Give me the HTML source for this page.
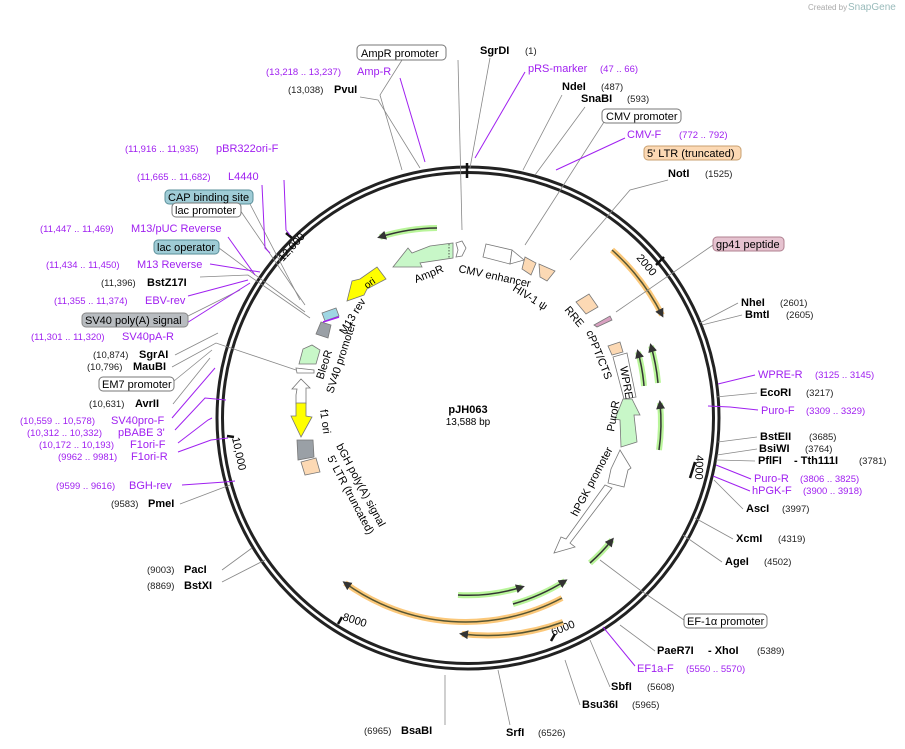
<!DOCTYPE html>
<html><head><meta charset="utf-8"><style>
body{margin:0;background:#fff}
svg{display:block}
text{font-family:"Liberation Sans","DejaVu Sans",sans-serif;font-size:11px}
.b{font-weight:bold;fill:#000}
.n{font-size:9.5px;fill:#222}
.p{fill:#a020f0}
.pn{fill:#a020f0;font-size:9.5px}
.l{stroke:#888;stroke-width:0.8;fill:none}
.lp{stroke:#a020f0;stroke-width:1;fill:none}
</style></head><body>
<svg width="905" height="749" viewBox="0 0 905 749" xmlns="http://www.w3.org/2000/svg">
<text x="808" y="10" style="font-size:8px;fill:#aaa">Created by</text><text x="848" y="10" style="font-size:10px;fill:#9bb">SnapGene</text>
<circle cx="468" cy="418" r="251" fill="none" stroke="#222" stroke-width="3"/>
<circle cx="468" cy="418" r="245.5" fill="none" stroke="#222" stroke-width="3"/>
<g stroke="#111" stroke-width="2.5">
<line x1="467" y1="163" x2="467" y2="178"/>
<line x1="664" y1="257" x2="656" y2="265"/>
<line x1="695" y1="462" x2="690" y2="478"/>
<line x1="555" y1="634" x2="551" y2="641"/>
<line x1="342" y1="617" x2="338" y2="624"/>
<line x1="227" y1="436" x2="234" y2="437"/>
<line x1="286" y1="233" x2="292" y2="238"/>
</g>
<g style="font-size:10px">
<text transform="translate(636,258) rotate(50)">2000</text>
<text transform="translate(696,455) rotate(92)">4000</text>
<text transform="translate(553,636) rotate(-22)">6000</text>
<text transform="translate(342,620) rotate(17)">8000</text>
<text transform="translate(232,438) rotate(78)">10,000</text>
<text transform="translate(283,262) rotate(-48)">12,000</text>
</g>
<defs><marker id="ar" markerWidth="6" markerHeight="6" refX="4" refY="3" orient="auto"><path d="M0,0 L6,3 L0,6 z" fill="#333"/></marker></defs>
<g fill="none">
<path d="M612 250 A220 220 0 0 1 662 315" stroke="#fbc87a" stroke-width="6"/>
<path d="M612 250 A220 220 0 0 1 662 315" stroke="#553" stroke-width="1.5" marker-end="url(#ar)"/>
<path d="M562 598 A206 206 0 0 1 345 583" stroke="#fbc87a" stroke-width="6"/>
<path d="M562 598 A206 206 0 0 1 345 583" stroke="#553" stroke-width="1.5" marker-end="url(#ar)"/>
<path d="M563 622 A218 218 0 0 1 462 634" stroke="#fbc87a" stroke-width="6"/>
<path d="M563 622 A218 218 0 0 1 462 634" stroke="#553" stroke-width="1.5" marker-end="url(#ar)"/>
<g stroke="#b9f59a" stroke-width="6">
<path d="M437 228 A195 195 0 0 0 380 237"/>
<path d="M458 595 A178 178 0 0 0 522 587"/>
<path d="M513 604 A200 200 0 0 0 565 581"/>
<path d="M590 563 A186 186 0 0 0 612 540"/>
<path d="M644 386 A180 180 0 0 0 638 352"/>
<path d="M658 383 A196 196 0 0 0 651 346"/>
<path d="M659 450 A192 192 0 0 0 660 403"/>
</g>
<g stroke="#333" stroke-width="1.5" marker-end="url(#ar)">
<path d="M437 228 A195 195 0 0 0 380 237"/>
<path d="M458 595 A178 178 0 0 0 522 587"/>
<path d="M513 604 A200 200 0 0 0 565 581"/>
<path d="M590 563 A186 186 0 0 0 612 540"/>
<path d="M644 386 A180 180 0 0 0 638 352"/>
<path d="M658 383 A196 196 0 0 0 651 346"/>
<path d="M659 450 A192 192 0 0 0 660 403"/>
</g>
</g>
<g stroke="#777" stroke-width="0.8">
<polygon points="453,243 453,258 420,263 422,267 393,267 408,248 412,253 430,246" fill="#c8f7c8"/>
<line x1="449" y1="244" x2="449" y2="258" stroke="#333" stroke-dasharray="1.5,1.5"/>
<polygon points="456,243 462,241 466,248 462,256 456,257 458,250" fill="#fff"/>
<polygon points="486,244 512,250 510,264 483,257" fill="#fff"/>
<polygon points="512,250 524,260 510,264" fill="#fff"/>
<polygon points="525,257 536,263 531,275 522,269" fill="#fcd9b4"/>
<polygon points="539,264 555,271 547,281 540,277" fill="#fcd9b4"/>
<polygon points="576,302 589,294 598,307 586,314" fill="#fcd9b4"/>
<polygon points="594,325 610,316 612,320 597,327" fill="#d8a0c0"/>
<polygon points="608,346 620,342 623,352 612,355" fill="#fcd9b4"/>
<polygon points="613,357 627,353 636,397 624,399" fill="#fff"/>
<polygon points="623,399 632,399 640,415 634,415 637,442 621,447 620,420 615,419" fill="#c8f7c8"/>
<polygon points="620,450 611,469 608,483 624,487 628,470 631,468" fill="#fff"/>
<polygon points="605,485 612,488 570,543 575,547 554,553 561,537 566,539" fill="#fff"/>
<polygon points="377,267 386,279 367,289 364,295 347,301 352,281 360,279" fill="#ff0"/>
<polygon points="321,322 331,325 328,338 316,334" fill="#9aa0a6"/>
<polygon points="299,364 303,349 312,345 320,350 316,364" fill="#c8f7c8"/>
<polygon points="296,395 297,389 292,389 301,379 310,388 306,388 306,404 296,404" fill="#fff"/>
<polygon points="296,403 306,403 306,416 312,417 301,437 291,416 296,416" fill="#ff0"/>
<polygon points="297,440 313,440 314,457 298,460" fill="#9aa0a6"/>
<polygon points="301,462 316,458 320,472 305,475" fill="#fcd9b4"/>
<polygon points="322,313 336,308 339,316 325,321" fill="#9fd6e3"/>
<line x1="323" y1="322" x2="339" y2="317" stroke="#a020f0" stroke-width="1.5"/>
<polygon points="296,368 314,370 314,373 297,373" fill="#fff"/>
</g>
<g>
<text transform="translate(416,283) rotate(-22)">AmpR</text>
<text transform="translate(458,272) rotate(12)">CMV enhancer</text>
<text transform="translate(512,290) rotate(32)">HIV-1 ψ</text>
<text transform="translate(564,310) rotate(50)">RRE</text>
<text transform="translate(586,332) rotate(68)">cPPT/CTS</text>
<text transform="translate(620,367) rotate(80)">WPRE</text>
<text transform="translate(614,432) rotate(-80)">PuroR</text>
<text transform="translate(577,517) rotate(-62)">hPGK promoter</text>
<text transform="translate(367,289) rotate(-35)" style="font-size:10px">ori</text>
<text transform="translate(345,335) rotate(-58)">M13 rev</text>
<text transform="translate(333,394) rotate(-72)">SV40 promoter</text>
<text transform="translate(323,380) rotate(-72)">BleoR</text>
<text transform="translate(320,410) rotate(82)">f1 ori</text>
<text transform="translate(336,446) rotate(62)">bGH poly(A) signal</text>
<text transform="translate(327,458) rotate(62)">5' LTR (truncated)</text>
</g>
<text x="468" y="413" text-anchor="middle" class="b">pJH063</text>
<text x="468" y="425" text-anchor="middle" style="font-size:10px">13,588 bp</text>
<g class="l">
<polyline points="402,60 380,95 402,170"/>
<polyline points="458,60 462,230"/>
<polyline points="490,58 470,168"/>
<polyline points="360,97 378,100 420,168"/>
<polyline points="562,95 523,170"/>
<polyline points="585,107 535,175"/>
<polyline points="604,122 525,245"/>
<polyline points="668,180 630,190 570,260"/>
<polyline points="713,245 616,312"/>
<polyline points="738,303 700,323"/>
<polyline points="742,315 702,325"/>
<polyline points="757,393 716,397"/>
<polyline points="757,437 718,442"/>
<polyline points="757,449 717,455"/>
<polyline points="755,461 716,460"/>
<polyline points="743,509 714,480"/>
<polyline points="733,539 695,518"/>
<polyline points="722,562 683,535"/>
<polyline points="684,620 640,590 600,560"/>
<polyline points="655,651 620,625"/>
<polyline points="610,687 590,640"/>
<polyline points="580,705 565,660"/>
<polyline points="510,725 498,670"/>
<polyline points="445,725 445,675"/>
<polyline points="222,582 265,560"/>
<polyline points="222,570 252,548"/>
<polyline points="180,504 230,485"/>
<polyline points="250,204 300,300"/>
<polyline points="240,210 305,305"/>
<polyline points="219,248 305,312"/>
<polyline points="200,277 248,275 310,318"/>
<polyline points="186,317 240,290"/>
<polyline points="175,355 218,333"/>
<polyline points="172,367 216,343 296,370"/>
<polyline points="174,381 212,350"/>
<polyline points="173,404 210,358"/>
</g>
<g class="lp">
<polyline points="400,78 425,162"/>
<polyline points="525,72 475,158"/>
<polyline points="625,138 556,170"/>
<polyline points="755,375 718,384"/>
<polyline points="758,410 730,407 708,406"/>
<polyline points="751,479 716,465"/>
<polyline points="750,491 713,476"/>
<polyline points="635,666 603,627"/>
<polyline points="284,180 286,230 290,235"/>
<polyline points="262,185 265,248 270,253"/>
<polyline points="228,237 255,275"/>
<polyline points="210,264 260,272"/>
<polyline points="188,296 248,280"/>
<polyline points="182,326 250,283"/>
<polyline points="172,418 215,368"/>
<polyline points="175,430 205,398 226,400"/>
<polyline points="178,443 208,420 212,418"/>
<polyline points="178,452 211,440 228,438"/>
<polyline points="182,485 225,482 235,481"/>
</g>
<g stroke-width="1">
<rect x="357" y="45" width="89" height="15" rx="4" fill="#fff" stroke="#777"/>
<rect x="602" y="109" width="79" height="14" rx="4" fill="#fff" stroke="#777"/>
<rect x="644" y="146" width="97" height="14" rx="4" fill="#fcd9b4" stroke="#c8a070"/>
<rect x="713" y="237" width="71" height="14" rx="4" fill="#e6c3d0" stroke="#b08090"/>
<rect x="684" y="614" width="83" height="14" rx="4" fill="#fff" stroke="#777"/>
<rect x="165" y="190" width="88" height="14" rx="4" fill="#9fccd6" stroke="#5a8f9a"/>
<rect x="172" y="203" width="69" height="14" rx="4" fill="#fff" stroke="#777"/>
<rect x="154" y="240" width="65" height="14" rx="4" fill="#9fccd6" stroke="#5a8f9a"/>
<rect x="82" y="313" width="106" height="14" rx="4" fill="#b8bcc0" stroke="#888"/>
<rect x="99" y="377" width="75" height="14" rx="4" fill="#fff" stroke="#777"/>
</g>
<text x="361" y="57">AmpR promoter</text>
<text x="606" y="120">CMV promoter</text>
<text x="647" y="157">5' LTR (truncated)</text>
<text x="716" y="248">gp41 peptide</text>
<text x="687" y="625">EF-1α promoter</text>
<text x="168" y="201">CAP binding site</text>
<text x="175" y="214">lac promoter</text>
<text x="157" y="251">lac operator</text>
<text x="85" y="324">SV40 poly(A) signal</text>
<text x="102" y="388">EM7 promoter</text>
<text x="480" y="54" class="b">SgrDI</text><text x="525" y="54" class="n">(1)</text>
<text x="266" y="75" class="pn">(13,218 .. 13,237)</text><text x="357" y="75" class="p">Amp-R</text>
<text x="528" y="72" class="p">pRS-marker</text><text x="600" y="72" class="pn">(47 .. 66)</text>
<text x="288" y="93" class="n">(13,038)</text><text x="334" y="93" class="b">PvuI</text>
<text x="562" y="90" class="b">NdeI</text><text x="601" y="90" class="n">(487)</text>
<text x="581" y="102" class="b">SnaBI</text><text x="627" y="102" class="n">(593)</text>
<text x="627" y="138" class="p">CMV-F</text><text x="679" y="138" class="pn">(772 .. 792)</text>
<text x="668" y="177" class="b">NotI</text><text x="705" y="177" class="n">(1525)</text>
<text x="741" y="306" class="b">NheI</text><text x="780" y="306" class="n">(2601)</text>
<text x="745" y="318" class="b">BmtI</text><text x="786" y="318" class="n">(2605)</text>
<text x="758" y="378" class="p">WPRE-R</text><text x="815" y="378" class="pn">(3125 .. 3145)</text>
<text x="760" y="396" class="b">EcoRI</text><text x="806" y="396" class="n">(3217)</text>
<text x="761" y="414" class="p">Puro-F</text><text x="806" y="414" class="pn">(3309 .. 3329)</text>
<text x="760" y="440" class="b">BstEII</text><text x="809" y="440" class="n">(3685)</text>
<text x="759" y="452" class="b">BsiWI</text><text x="805" y="452" class="n">(3764)</text>
<text x="758" y="464" class="b">PflFI</text><text x="794" y="464" class="b">- Tth111I</text><text x="859" y="464" class="n">(3781)</text>
<text x="754" y="482" class="p">Puro-R</text><text x="800" y="482" class="pn">(3806 .. 3825)</text>
<text x="752" y="494" class="p">hPGK-F</text><text x="803" y="494" class="pn">(3900 .. 3918)</text>
<text x="746" y="512" class="b">AscI</text><text x="782" y="512" class="n">(3997)</text>
<text x="736" y="542" class="b">XcmI</text><text x="778" y="542" class="n">(4319)</text>
<text x="725" y="565" class="b">AgeI</text><text x="764" y="565" class="n">(4502)</text>
<text x="657" y="654" class="b">PaeR7I</text><text x="708" y="654" class="b">- XhoI</text><text x="757" y="654" class="n">(5389)</text>
<text x="637" y="672" class="p">EF1a-F</text><text x="686" y="672" class="pn">(5550 .. 5570)</text>
<text x="611" y="690" class="b">SbfI</text><text x="647" y="690" class="n">(5608)</text>
<text x="582" y="708" class="b">Bsu36I</text><text x="632" y="708" class="n">(5965)</text>
<text x="506" y="736" class="b">SrfI</text><text x="538" y="736" class="n">(6526)</text>
<text x="364" y="734" class="n">(6965)</text><text x="401" y="734" class="b">BsaBI</text>
<text x="147" y="589" class="n">(8869)</text><text x="184" y="589" class="b">BstXI</text>
<text x="147" y="573" class="n">(9003)</text><text x="184" y="573" class="b">PacI</text>
<text x="111" y="507" class="n">(9583)</text><text x="148" y="507" class="b">PmeI</text>
<text x="56" y="489" class="pn">(9599 .. 9616)</text><text x="129" y="489" class="p">BGH-rev</text>
<text x="125" y="152" class="pn">(11,916 .. 11,935)</text><text x="216" y="152" class="p">pBR322ori-F</text>
<text x="137" y="180" class="pn">(11,665 .. 11,682)</text><text x="228" y="180" class="p">L4440</text>
<text x="40" y="232" class="pn">(11,447 .. 11,469)</text><text x="131" y="232" class="p">M13/pUC Reverse</text>
<text x="46" y="268" class="pn">(11,434 .. 11,450)</text><text x="137" y="268" class="p">M13 Reverse</text>
<text x="101" y="286" class="n">(11,396)</text><text x="147" y="286" class="b">BstZ17I</text>
<text x="54" y="304" class="pn">(11,355 .. 11,374)</text><text x="145" y="304" class="p">EBV-rev</text>
<text x="31" y="340" class="pn">(11,301 .. 11,320)</text><text x="122" y="340" class="p">SV40pA-R</text>
<text x="93" y="358" class="n">(10,874)</text><text x="139" y="358" class="b">SgrAI</text>
<text x="87" y="370" class="n">(10,796)</text><text x="133" y="370" class="b">MauBI</text>
<text x="89" y="407" class="n">(10,631)</text><text x="135" y="407" class="b">AvrII</text>
<text x="20" y="424" class="pn">(10,559 .. 10,578)</text><text x="111" y="424" class="p">SV40pro-F</text>
<text x="27" y="436" class="pn">(10,312 .. 10,332)</text><text x="118" y="436" class="p">pBABE 3'</text>
<text x="39" y="448" class="pn">(10,172 .. 10,193)</text><text x="130" y="448" class="p">F1ori-F</text>
<text x="58" y="460" class="pn">(9962 .. 9981)</text><text x="131" y="460" class="p">F1ori-R</text>
</svg>
</body></html>
